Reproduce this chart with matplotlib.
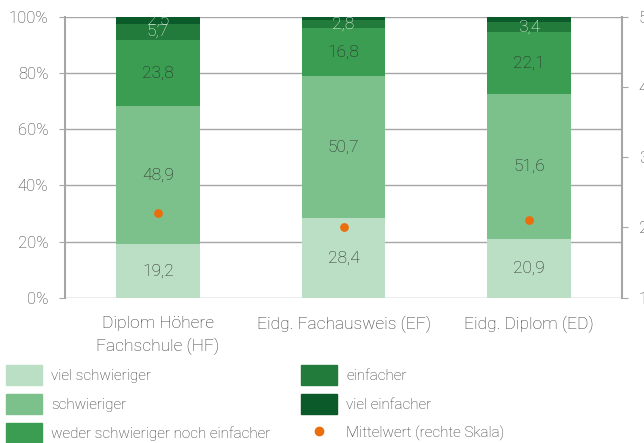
import numpy as np
from matplotlib import pyplot as plt
from matplotlib.patches import Patch
from matplotlib.lines import Line2D

plt.rcParams['font.family'] = ['Roboto', 'DejaVu Sans']
plt.rcParams['font.weight'] = 'light'

categories = ['Diplom Höhere\nFachschule (HF)', 'Eidg. Fachausweis (EF)', 'Eidg. Diplom (ED)']
series = ['viel schwieriger', 'schwieriger', 'weder schwieriger noch einfacher', 'einfacher', 'viel einfacher']
viel_schwieriger = [19.2, 28.4, 20.9]
schwieriger = [48.9, 50.7, 51.6]
weder = [23.8, 16.8, 22.1]
einfacher = [5.7, 2.8, 3.4]
viel_einfacher = [2.5, 1.3, 2.0]
mittelwert = [2.2, 2.0, 2.1]

colors = ['#bbdfc4', '#7cc18b', '#3a9d52', '#227b3b', '#0a5a2a']
text_colors = ['#2b2b2b', '#2b2b2b', '#2b2b2b', '#eef7ee', '#eef7ee']
grid_c = '#a6a6a6'

values = [viel_schwieriger, schwieriger, weder, einfacher, viel_einfacher]

fig = plt.figure(figsize=(6.44, 4.43), dpi=100)
ax = fig.add_axes([0.101, 0.328, 0.865, 0.634])

x = np.arange(len(categories))
bottom = np.zeros(len(categories))
for vals, col, tc in zip(values, colors, text_colors):
    ax.bar(x, vals, 0.45, bottom=bottom, color=col, zorder=2)
    for xi, b, v in zip(x, bottom, vals):
        # the thinnest top segments stay unlabelled
        if v >= 2.5:
            ax.text(xi, b + v / 2, f'{v:.1f}'.replace('.', ','), ha='center', va='center',
                    fontsize=12.5, color=tc, zorder=3)
    bottom += np.array(vals)

ax.set_xlim(-0.5, 2.5)
ax.set_ylim(0, 100)
ax.set_yticks(range(0, 101, 20))
ax.set_yticklabels([f'{t}%' for t in range(0, 101, 20)])
ax.set_xticks(x)
ax.set_xticklabels(categories, fontsize=12.5, color='#333333', linespacing=1.55)
ax.tick_params(axis='x', length=0, pad=13)
ax.tick_params(axis='y', length=4, color=grid_c, labelsize=12, labelcolor='#3c3c3c', pad=8)
ax.grid(axis='y', color=grid_c, linewidth=1, zorder=0)
ax.set_axisbelow(True)
for s in ['top', 'bottom']:
    ax.spines[s].set_visible(False)
ax.spines['left'].set_color(grid_c)
ax.spines['left'].set_linewidth(1.5)
ax.spines['right'].set_visible(False)

ax2 = ax.twinx()
ax2.scatter(x, mittelwert, s=40, color='#ea6e0c', zorder=5, linewidths=0)
ax2.set_ylim(1, 5)
ax2.set_yticks([1, 2, 3, 4, 5])
ax2.tick_params(axis='y', length=4, color=grid_c, labelsize=12, labelcolor='#3c3c3c', pad=8)
for s in ['top', 'bottom', 'left']:
    ax2.spines[s].set_visible(False)
ax2.spines['right'].set_color(grid_c)
ax2.spines['right'].set_linewidth(1.5)

handles1 = [Patch(color=c) for c in colors[:3]]
handles2 = [Patch(color=c) for c in colors[3:]]
handles2.append(Line2D([], [], marker='o', color='#ea6e0c', linestyle='none', markersize=6))
leg_kw = dict(frameon=False, fontsize=11, handlelength=2.35, handleheight=1.6,
              handletextpad=0.6, labelspacing=0.62, borderpad=0, borderaxespad=0,
              loc='upper left', labelcolor='#333333')
fig.legend(handles1, series[:3], bbox_to_anchor=(0.009, 0.176), **leg_kw)
fig.legend(handles2, series[3:] + ['Mittelwert (rechte Skala)'],
           bbox_to_anchor=(0.468, 0.176), **leg_kw)

plt.savefig('out.png', dpi=100)
